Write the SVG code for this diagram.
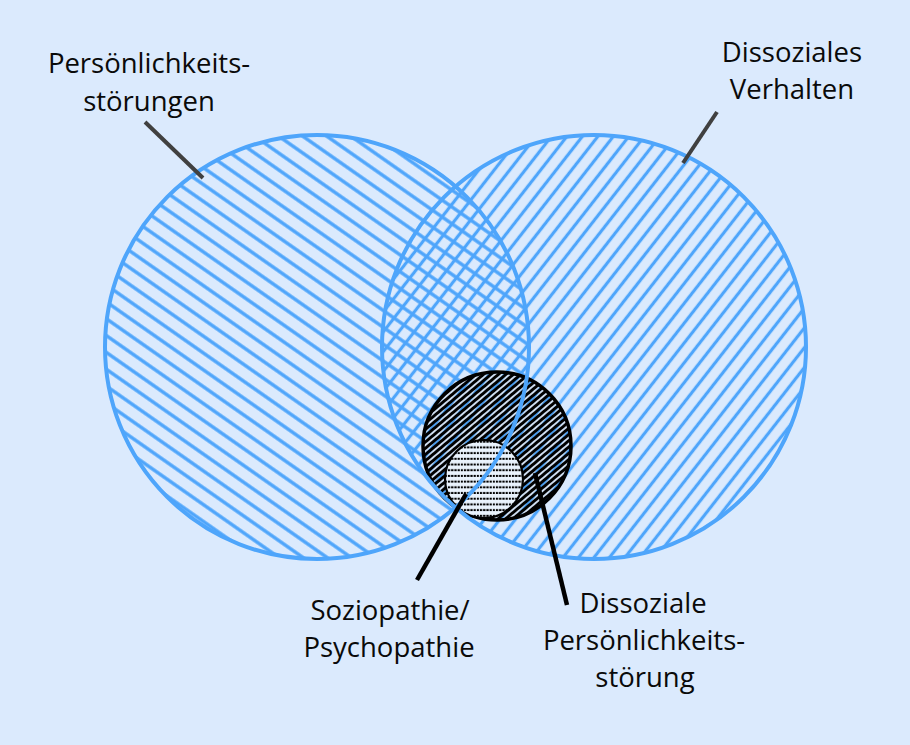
<svg xmlns="http://www.w3.org/2000/svg" width="910" height="745" viewBox="0 0 910 745">
  <style>
    .lbl { font-family: "Open Sans", "Noto Sans", "Liberation Sans", sans-serif; font-size: 27.5px; fill: #0a0a0a; text-anchor: middle; }
    .outline { fill: none; stroke: #4ea5fb; stroke-width: 4; }
    .lead-top { stroke: #404040; stroke-width: 4; fill: none; }
    .lead-bot { stroke: #000; stroke-width: 4.5; fill: none; }
  </style>
  <defs>
    <pattern id="hatchL" patternUnits="userSpaceOnUse" width="20" height="13.8" patternTransform="rotate(35)">
      <line x1="0" y1="6.9" x2="20" y2="6.9" stroke="#4ea5fb" stroke-width="3.4"/>
    </pattern>
    <pattern id="hatchR" patternUnits="userSpaceOnUse" width="20" height="12.2" patternTransform="rotate(-52)">
      <line x1="0" y1="6.1" x2="20" y2="6.1" stroke="#4ea5fb" stroke-width="3.2"/>
    </pattern>
    <pattern id="hatchDark" patternUnits="userSpaceOnUse" width="20" height="4.8" patternTransform="rotate(-40)">
      <line x1="0" y1="2.4" x2="20" y2="2.4" stroke="#000" stroke-width="3"/>
    </pattern>
    <pattern id="dotsSmall" patternUnits="userSpaceOnUse" width="3.2" height="5.7">
      <line x1="0" y1="2.8" x2="3.2" y2="2.8" stroke="#000" stroke-width="2" stroke-dasharray="2.2 1"/>
    </pattern>
  </defs>

  <rect width="910" height="745" fill="#dbeafd"/>

  <g id="circle-persoenlichkeitsstoerungen">
    <circle cx="317" cy="347" r="212" fill="url(#hatchL)"/>
  </g>
  <g id="circle-dissoziales-verhalten">
    <circle cx="594" cy="347" r="212" fill="url(#hatchR)"/>
  </g>
  <g id="circle-dissoziale-persoenlichkeitsstoerung">
    <circle cx="497" cy="446" r="74" fill="#dbeafd"/>
    <circle cx="497" cy="446" r="74" fill="url(#hatchR)"/>
    <circle cx="497" cy="446" r="74" fill="url(#hatchDark)" stroke="#000" stroke-width="3.5"/>
  </g>
  <g id="circle-soziopathie">
    <circle cx="484" cy="479" r="39" fill="#eaf3fd"/>
    <circle cx="484" cy="479" r="39" fill="url(#dotsSmall)" stroke="#000" stroke-width="2.2"/>
  </g>
  <g id="outlines">
    <circle class="outline" cx="317" cy="347" r="212"/>
    <circle class="outline" cx="594" cy="347" r="212"/>
  </g>

  <g id="connectors">
    <line class="lead-top" x1="145" y1="122" x2="203" y2="178"/>
    <line class="lead-top" x1="717" y1="112" x2="683" y2="163"/>
    <line class="lead-bot" x1="417" y1="580" x2="466" y2="494"/>
    <line class="lead-bot" x1="567" y1="605" x2="535" y2="473"/>
  </g>

  <g id="label-persoenlichkeitsstoerungen">
    <text class="lbl" x="149" y="73">Persönlichkeits-</text>
    <text class="lbl" x="149" y="111">störungen</text>
  </g>
  <g id="label-dissoziales-verhalten">
    <text class="lbl" x="792" y="62">Dissoziales</text>
    <text class="lbl" x="792" y="99">Verhalten</text>
  </g>
  <g id="label-soziopathie">
    <text class="lbl" x="390" y="620">Soziopathie/</text>
    <text class="lbl" x="389" y="657">Psychopathie</text>
  </g>
  <g id="label-dissoziale-persoenlichkeitsstoerung">
    <text class="lbl" x="643" y="613">Dissoziale</text>
    <text class="lbl" x="644" y="650">Persönlichkeits-</text>
    <text class="lbl" x="645" y="687">störung</text>
  </g>
</svg>
